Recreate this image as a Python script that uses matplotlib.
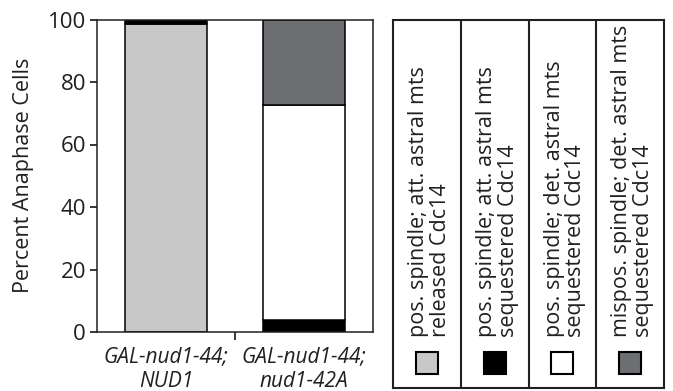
import matplotlib
matplotlib.use("Agg")
import matplotlib.pyplot as plt
from matplotlib.patches import Rectangle
import numpy as np

# strains on the x axis
strains = ["GAL-nud1-44;\nNUD1", "GAL-nud1-44;\nnud1-42A"]

# phenotype categories (stack order, bottom -> top)
categories = [
    "pos. spindle; att. astral mts\nreleased Cdc14",
    "pos. spindle; att. astral mts\nsequestered Cdc14",
    "pos. spindle; det. astral mts\nsequestered Cdc14",
    "mispos. spindle; det. astral mts\nsequestered Cdc14",
]
colors = ["#c8c8c8", "#000000", "#ffffff", "#6d6e71"]

# percent anaphase cells per category, one value per strain
released_att = [98.6, 0.0]
sequestered_att = [1.4, 4.0]
sequestered_det = [0.0, 68.6]
mispos_det = [0.0, 27.4]
values = [released_att, sequestered_att, sequestered_det, mispos_det]

yticks = [0, 20, 40, 60, 80, 100]

plt.rcParams["font.family"] = ["Open Sans", "DejaVu Sans"]
txt = "#231f20"

fig = plt.figure(figsize=(6.73, 3.91), dpi=100)

# bar chart
ax = fig.add_axes([97 / 673, 59 / 391, 276 / 673, 312.5 / 391])
x = np.arange(len(strains))
bottom = np.zeros(len(strains))
for vals, c in zip(values, colors):
    vals = np.array(vals)
    mask = vals > 0
    ax.bar(x[mask], vals[mask], bottom=bottom[mask], width=0.59,
           color=c, edgecolor="black", linewidth=1.1)
    bottom += vals

ax.set_xlim(-0.5, 1.5)
ax.set_ylim(0, 100)
ax.set_yticks(yticks)
ax.set_xticks(x)
ax.set_xticklabels(strains, fontstyle="italic", fontsize=15, linespacing=1.25,
                   color=txt)
ax.set_xticks([0.5], minor=True)
ax.tick_params(axis="x", which="major", length=0, pad=10)
ax.tick_params(axis="x", which="minor", length=6, width=1.1)
ax.tick_params(axis="y", length=5, width=1.1, labelsize=16, pad=3, labelcolor=txt)
ax.set_ylabel("Percent Anaphase Cells", fontsize=15.5, labelpad=10, color=txt)
for s in ax.spines.values():
    s.set_linewidth(1.1)
    s.set_color(txt)

# legend panel
lg = fig.add_axes([393 / 673, 3 / 391, 271 / 673, 368 / 391])
lg.set_xlim(0, 4)
lg.set_ylim(0, 1)
lg.set_xticks([])
lg.set_yticks([])
for s in lg.spines.values():
    s.set_linewidth(1.5)
    s.set_color(txt)
for i in range(1, 4):
    lg.axvline(i, color=txt, linewidth=1.5)

sq_w = 22 / (271 / 4)
sq_h = 22 / 368
for i, (lab, c) in enumerate(zip(categories, colors)):
    lg.add_patch(Rectangle((i + 0.5 - sq_w / 2, 0.068 - sq_h / 2), sq_w, sq_h,
                           facecolor=c, edgecolor="black", linewidth=1.5))
    lg.text(i + 0.54, 0.139, lab, rotation=90, ha="center", va="bottom",
            multialignment="left", fontsize=15.5, linespacing=1.05, color=txt)

fig.savefig("out.png", dpi=100)
